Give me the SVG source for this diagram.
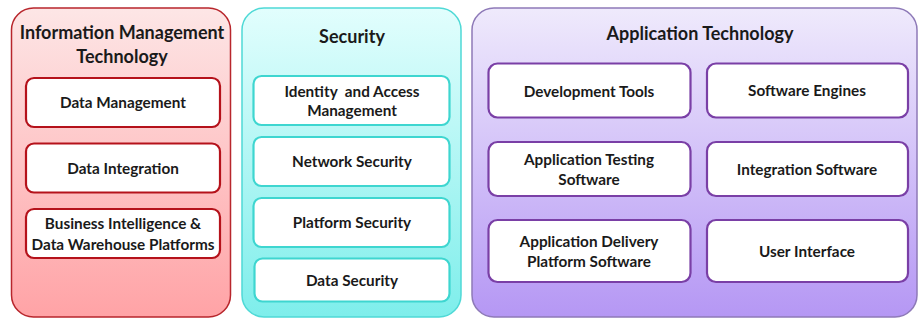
<svg xmlns="http://www.w3.org/2000/svg" width="918" height="320" viewBox="0 0 918 320">
<defs>
<linearGradient id="gRed" x1="0" y1="0" x2="0" y2="1"><stop offset="0" stop-color="#fde6e6"/><stop offset="1" stop-color="#ffa3a6"/></linearGradient>
<linearGradient id="gCyan" x1="0" y1="0" x2="0" y2="1"><stop offset="0" stop-color="#e2fefd"/><stop offset="1" stop-color="#7eeeeb"/></linearGradient>
<linearGradient id="gPurple" x1="0" y1="0" x2="0" y2="1"><stop offset="0" stop-color="#efeafc"/><stop offset="1" stop-color="#b597f4"/></linearGradient>
<style>
.t{font-family:Lato,"Liberation Sans",sans-serif;font-weight:bold;fill:#1a1a1a;text-anchor:middle}
.h{font-size:18px}
.b{font-size:15.3px}
.box{fill:#fff;stroke-width:2.2}
.r .box{stroke:#b5121b}
.c .box{stroke:#3ed6d0}
.p .box{stroke:#7a3fa6}
</style>
</defs>
<rect x="11.5" y="8" width="219" height="309" rx="22" fill="url(#gRed)" stroke="#b8262c" stroke-width="1.5"/>
<rect x="242" y="8" width="219" height="309" rx="22" fill="url(#gCyan)" stroke="#4fd9d6" stroke-width="1.5"/>
<rect x="472" y="8" width="445" height="309" rx="22" fill="url(#gPurple)" stroke="#8e7ab8" stroke-width="1.5"/>

<g id="imt" class="r">
<text class="t h" x="122" y="39">Information Management</text>
<text class="t h" x="122" y="63">Technology</text>
<g id="imt-dm"><rect class="box" x="26" y="78" width="194" height="49" rx="8"/><text class="t b" x="123" y="108">Data Management</text></g>
<g id="imt-di"><rect class="box" x="26" y="143.5" width="194" height="49" rx="8"/><text class="t b" x="123" y="174">Data Integration</text></g>
<g id="imt-bi"><rect class="box" x="26" y="209" width="194" height="49" rx="8"/><text class="t b" x="123" y="229">Business Intelligence &amp;</text><text class="t b" x="123" y="250">Data Warehouse Platforms</text></g>
</g>

<g id="sec" class="c">
<text class="t h" x="352" y="43">Security</text>
<g id="sec-iam"><rect class="box" x="253.5" y="76" width="196" height="49" rx="8"/><text class="t b" x="352" y="97" xml:space="preserve">Identity  and Access</text><text class="t b" x="352" y="116">Management</text></g>
<g id="sec-net"><rect class="box" x="253.5" y="137" width="196" height="49" rx="8"/><text class="t b" x="352" y="167">Network Security</text></g>
<g id="sec-plat"><rect class="box" x="253.5" y="198" width="196" height="49" rx="8"/><text class="t b" x="352" y="228">Platform Security</text></g>
<g id="sec-data"><rect class="box" x="254.5" y="258.5" width="195" height="43" rx="8"/><text class="t b" x="352" y="286">Data Security</text></g>
</g>

<g id="app" class="p">
<text class="t h" x="700" y="40">Application Technology</text>
<g id="app-dev"><rect class="box" x="488.5" y="63.5" width="202" height="54" rx="9"/><text class="t b" x="589" y="97">Development Tools</text></g>
<g id="app-eng"><rect class="box" x="707" y="63.5" width="201" height="54" rx="9"/><text class="t b" x="807" y="96">Software Engines</text></g>
<g id="app-test"><rect class="box" x="488.5" y="142" width="202" height="54" rx="9"/><text class="t b" x="589" y="165">Application Testing</text><text class="t b" x="589" y="185">Software</text></g>
<g id="app-int"><rect class="box" x="707" y="142" width="201" height="54" rx="9"/><text class="t b" x="807" y="175">Integration Software</text></g>
<g id="app-del"><rect class="box" x="488.5" y="220" width="202" height="62" rx="9"/><text class="t b" x="589" y="247">Application Delivery</text><text class="t b" x="589" y="267">Platform Software</text></g>
<g id="app-ui"><rect class="box" x="707" y="220" width="201" height="62" rx="9"/><text class="t b" x="807" y="257">User Interface</text></g>
</g>
<g id="connectors"/>
</svg>
